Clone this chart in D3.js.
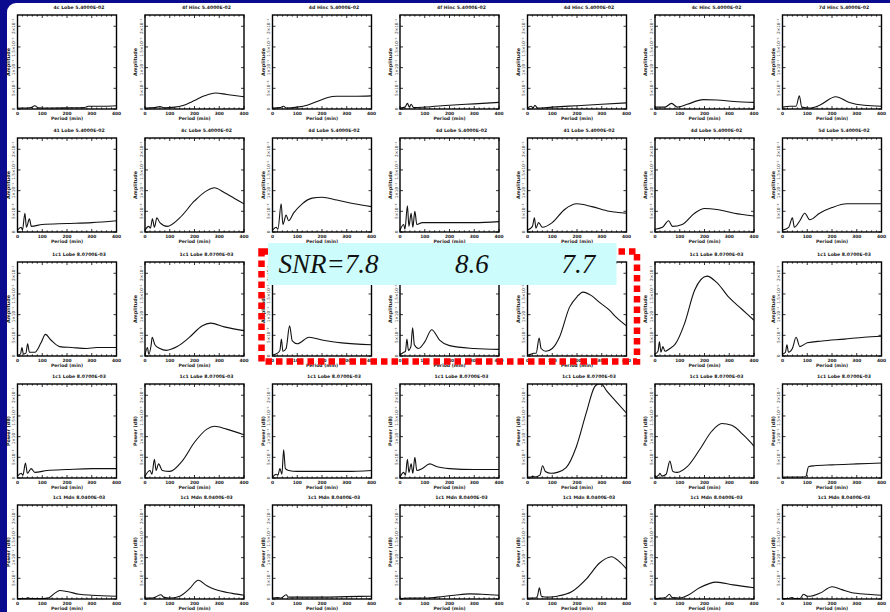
<!DOCTYPE html>
<html>
<head>
<meta charset="utf-8">
<script src="https://cdn.jsdelivr.net/npm/d3@7"></script>
<style>
  html, body { margin: 0; padding: 0; background: #fff; }
  svg { display: block; }
</style>
</head>
<body>
<svg id="chart" width="890" height="612"></svg>
<script>
// ---- axis ticks -------------------------------------------------------
const periodTicks = [0, 100, 200, 300, 400];
const powerTicks = [0, 0.22, 0.44, 0.66, 0.88];
const powerTickLabels = ["0", "5×10⁻²", "1×10⁻¹", "1.5×10⁻¹", "2×10⁻¹"];

// ---- panel titles (region, level) -------------------------------------
const row1Titles = ["4c Lobe", "4f Hinc", "4d Hinc", "4f Hinc", "4d Hinc", "4c Hinc", "7d Hinc"];
const row2Titles = ["41 Lobe", "4c Lobe", "4d Lobe", "4d Lobe", "41 Lobe", "4d Lobe", "5d Lobe"];
const row3Titles = ["1c1 Lobe", "1c1 Lobe", "1c1 Lobe", "1c1 Lobe", "1c1 Lobe", "1c1 Lobe", "1c1 Lobe"];
const row4Titles = ["1c1 Lobe", "1c1 Lobe", "1c1 Lobe", "1c1 Lobe", "1c1 Lobe", "1c1 Lobe", "1c1 Lobe"];
const row5Titles = ["1c1 Mdn", "1c1 Mdn", "1c1 Mdn", "1c1 Mdn", "1c1 Mdn", "1c1 Mdn", "1c1 Mdn"];
const rowLevels = ["5.4000E-02", "5.4000E-02", "8.0700E-03", "8.0700E-03", "8.0400E-03"];
const rowXLabels = ["Period (min)", "Period (min)", "Period (min)", "Period (min)", "Period (min)"];
const rowYLabels = ["Amplitude", "Amplitude", "Amplitude", "Power (dB)", "Power (dB)"];

// ---- periodogram series: [period, normalised power] ------------------
const row1Series = [
  [[0,0.01],[40,0.01],[55,0.015],[70,0.035],[85,0.012],[120,0.01],[200,0.012],[270,0.015],[285,0.03],[350,0.03],[400,0.035]],
  [[0,0.01],[40,0.015],[60,0.025],[80,0.012],[120,0.02],[150,0.035],[200,0.09],[240,0.14],[285,0.17],[330,0.155],[400,0.13]],
  [[0,0.01],[30,0.015],[45,0.03],[55,0.01],[100,0.02],[140,0.04],[180,0.08],[220,0.12],[260,0.135],[330,0.135],[400,0.14]],
  [[0,0.01],[20,0.02],[30,0.06],[38,0.02],[45,0.05],[55,0.015],[100,0.02],[200,0.04],[300,0.055],[400,0.07]],
  [[0,0.01],[15,0.03],[22,0.01],[30,0.04],[40,0.01],[100,0.02],[200,0.035],[300,0.05],[400,0.065]],
  [[0,0.02],[40,0.02],[67,0.06],[90,0.02],[130,0.05],[195,0.1],[250,0.095],[320,0.08],[400,0.07]],
  [[0,0.02],[30,0.03],[55,0.03],[68,0.14],[78,0.02],[110,0.01],[150,0.04],[215,0.13],[270,0.07],[330,0.04],[400,0.03]]
];
const row2Series = [
  [[0,0.02],[15,0.05],[20,0.02],[30,0.2],[36,0.05],[48,0.14],[56,0.06],[100,0.08],[200,0.09],[300,0.1],[400,0.12]],
  [[0,0.02],[15,0.06],[22,0.04],[30,0.14],[38,0.05],[48,0.15],[60,0.1],[90,0.06],[140,0.15],[200,0.33],[250,0.44],[280,0.47],[320,0.42],[360,0.36],[400,0.3]],
  [[0,0.02],[15,0.05],[22,0.03],[35,0.3],[42,0.08],[55,0.18],[65,0.12],[85,0.2],[120,0.3],[160,0.36],[200,0.37],[260,0.34],[330,0.3],[400,0.27]],
  [[0,0.02],[15,0.08],[20,0.03],[30,0.28],[36,0.06],[45,0.2],[52,0.05],[60,0.22],[68,0.08],[90,0.1],[200,0.1],[300,0.1],[400,0.11]],
  [[0,0.02],[20,0.06],[28,0.15],[34,0.04],[45,0.1],[60,0.05],[100,0.1],[150,0.24],[200,0.3],[260,0.27],[330,0.22],[400,0.2]],
  [[0,0.03],[30,0.05],[55,0.12],[70,0.06],[110,0.08],[160,0.2],[200,0.25],[250,0.24],[320,0.2],[400,0.17]],
  [[0,0.02],[25,0.05],[40,0.15],[48,0.05],[70,0.12],[90,0.2],[110,0.13],[150,0.2],[200,0.26],[260,0.3],[330,0.3],[400,0.3]]
];
const row3Series = [
  [[0,0.01],[12,0.02],[18,0.09],[24,0.02],[34,0.03],[41,0.13],[48,0.04],[70,0.04],[95,0.14],[113,0.23],[135,0.17],[170,0.1],[220,0.09],[280,0.08],[320,0.09],[400,0.09]],
  [[0,0.01],[10,0.09],[15,0.02],[25,0.12],[29,0.2],[40,0.12],[60,0.08],[86,0.06],[130,0.1],[180,0.2],[230,0.32],[265,0.35],[320,0.31],[400,0.27]],
  [[0,0.01],[20,0.03],[30,0.06],[36,0.18],[42,0.05],[55,0.08],[69,0.32],[80,0.16],[100,0.13],[148,0.2],[200,0.17],[280,0.14],[400,0.12]],
  [[0,0.01],[15,0.04],[22,0.05],[28,0.18],[34,0.06],[44,0.1],[51,0.3],[58,0.12],[75,0.08],[100,0.15],[128,0.28],[160,0.17],[200,0.11],[300,0.08],[400,0.07]],
  [[0,0.01],[15,0.02],[25,0.03],[35,0.03],[47,0.19],[55,0.08],[74,0.05],[100,0.08],[129,0.2],[170,0.52],[200,0.63],[224,0.68],[260,0.64],[291,0.57],[330,0.49],[359,0.41],[400,0.32]],
  [[0,0.02],[12,0.05],[18,0.15],[24,0.04],[32,0.1],[40,0.05],[60,0.08],[80,0.12],[120,0.35],[160,0.7],[210,0.85],[250,0.78],[300,0.62],[350,0.5],[400,0.38]],
  [[0,0.02],[12,0.04],[18,0.12],[24,0.04],[40,0.08],[55,0.2],[70,0.1],[100,0.14],[160,0.16],[250,0.18],[330,0.2],[400,0.21]]
];
const row4Series = [
  [[0,0.02],[15,0.05],[22,0.03],[32,0.16],[40,0.05],[55,0.1],[70,0.06],[120,0.08],[200,0.09],[300,0.1],[400,0.1]],
  [[0,0.02],[20,0.08],[28,0.04],[38,0.2],[45,0.08],[55,0.15],[70,0.08],[100,0.07],[150,0.18],[200,0.38],[250,0.52],[280,0.55],[330,0.52],[400,0.46]],
  [[0,0.01],[15,0.04],[22,0.03],[30,0.1],[38,0.04],[45,0.3],[52,0.1],[65,0.08],[100,0.07],[200,0.07],[300,0.07],[400,0.08]],
  [[0,0.01],[15,0.06],[22,0.03],[30,0.2],[36,0.06],[45,0.15],[52,0.05],[60,0.22],[68,0.08],[90,0.1],[120,0.15],[150,0.12],[200,0.1],[300,0.09],[400,0.09]],
  [[0,0.01],[15,0.01],[20,0.02],[30,0.01],[50,0.03],[61,0.13],[72,0.07],[95,0.05],[120,0.06],[156,0.11],[197,0.33],[237,0.69],[271,0.97],[285,1.0],[298,1.0],[319,0.93],[359,0.81],[400,0.69]],
  [[0,0.01],[15,0.03],[20,0.05],[28,0.02],[45,0.04],[60,0.18],[72,0.07],[90,0.06],[130,0.12],[180,0.3],[230,0.5],[270,0.58],[310,0.56],[360,0.45],[400,0.34]],
  [[0,0.01],[40,0.01],[80,0.01],[95,0.02],[105,0.12],[130,0.13],[200,0.14],[300,0.15],[400,0.16]]
];
const row5Series = [
  [[0,0.005],[30,0.005],[43,0.012],[55,0.004],[100,0.005],[124,0.01],[150,0.06],[171,0.09],[200,0.08],[250,0.05],[300,0.04],[400,0.03]],
  [[0,0.01],[30,0.01],[45,0.025],[64,0.045],[75,0.02],[100,0.01],[140,0.03],[180,0.11],[215,0.2],[250,0.14],[284,0.1],[352,0.06],[400,0.04]],
  [[0,0.01],[20,0.015],[35,0.01],[55,0.045],[65,0.02],[100,0.02],[200,0.02],[300,0.025],[400,0.03]],
  [[0,0.005],[40,0.01],[100,0.01],[150,0.02],[220,0.04],[280,0.055],[330,0.05],[400,0.04]],
  [[0,0.01],[30,0.01],[40,0.03],[48,0.12],[56,0.03],[80,0.02],[120,0.03],[180,0.08],[240,0.22],[290,0.38],[340,0.45],[370,0.4],[400,0.32]],
  [[0,0.005],[30,0.01],[45,0.02],[58,0.05],[70,0.015],[100,0.01],[133,0.04],[180,0.12],[248,0.18],[316,0.15],[400,0.12]],
  [[0,0.005],[25,0.005],[37,0.015],[48,0.005],[70,0.005],[85,0.05],[100,0.03],[112,0.03],[150,0.06],[201,0.13],[240,0.1],[277,0.07],[345,0.05],[400,0.04]]
];

// ---- annotation -------------------------------------------------------
const snrLabels = ["SNR=7.8", "8.6", "7.7"];
const highlightRow = 2;
const highlightCols = [2, 3, 4];

// ---- layout -----------------------------------------------------------
const allSeries = [row1Series, row2Series, row3Series, row4Series, row5Series];
const allTitles = [row1Titles, row2Titles, row3Titles, row4Titles, row5Titles];
const colLeft0 = 17.5, colStep = 127.5, frameW = 99;
const rowTops = [15, 138, 262, 384, 505];
const frameH = 94;

const svg = d3.select("#chart");

// Page background: blue slide border with white content area
svg.append("rect").attr("width", 890).attr("height", 612).attr("fill", "#0b0b8f");
svg.append("rect").attr("x", 7).attr("y", 3).attr("width", 900).attr("height", 640)
  .attr("rx", 9).attr("fill", "#ffffff");

const defs = svg.append("defs");
const x = d3.scaleLinear().domain([0, 400]).range([0, frameW]);
const y = d3.scaleLinear().domain([0, 1]).range([frameH, 0]);
const line = d3.line().x(d => x(d[0])).y(d => y(Math.min(d[1], 1))).curve(d3.curveMonotoneX);
const minorPeriods = d3.range(0, 401, 20);

defs.append("clipPath").attr("id", "frameClip")
  .append("rect").attr("width", frameW).attr("height", frameH);

allSeries.forEach((rowSeries, r) => {
  rowSeries.forEach((pts, c) => {
    const g = svg.append("g")
      .attr("transform", `translate(${colLeft0 + c * colStep},${rowTops[r]})`);

    // title above frame (the highlighted panels carry the SNR banner instead)
    const underBanner = r === highlightRow && highlightCols.includes(c);
    if (!underBanner) {
      g.append("text")
        .attr("x", frameW / 2 + 12).attr("y", -6)
        .attr("text-anchor", "middle")
        .attr("font-family", "DejaVu Sans, sans-serif")
        .attr("font-size", 4.6).attr("font-weight", "bold").attr("fill", "#222")
        .text(`${allTitles[r][c]}     ${rowLevels[r]}`);
    }

    // curve
    g.append("path")
      .attr("d", line(pts))
      .attr("clip-path", "url(#frameClip)")
      .attr("fill", "none").attr("stroke", "#111").attr("stroke-width", 1.1)
      .attr("stroke-linejoin", "round");

    // frame
    g.append("rect").attr("width", frameW).attr("height", frameH)
      .attr("fill", "none").attr("stroke", "#000").attr("stroke-width", 1.4);

    // inward ticks on all four sides
    const tk = g.append("g").attr("stroke", "#000").attr("stroke-width", 0.8);
    minorPeriods.forEach(p => {
      const len = periodTicks.includes(p) ? 3 : 1.6;
      tk.append("line").attr("x1", x(p)).attr("x2", x(p)).attr("y1", frameH).attr("y2", frameH - len);
      tk.append("line").attr("x1", x(p)).attr("x2", x(p)).attr("y1", 0).attr("y2", len);
    });
    powerTicks.forEach(v => {
      tk.append("line").attr("x1", 0).attr("x2", 3).attr("y1", y(v)).attr("y2", y(v));
      tk.append("line").attr("x1", frameW).attr("x2", frameW - 3).attr("y1", y(v)).attr("y2", y(v));
    });

    // x tick labels and axis label
    const xa = g.append("g").attr("font-family", "DejaVu Sans, sans-serif")
      .attr("font-size", 4.4).attr("font-weight", "bold").attr("fill", "#222")
      .attr("text-anchor", "middle");
    periodTicks.forEach(p => {
      xa.append("text").attr("x", x(p)).attr("y", frameH + 5.5).text(p);
    });
    xa.append("text").attr("x", frameW / 2).attr("y", frameH + 10.5)
      .attr("font-size", 4.6).text(rowXLabels[r]);

    // y tick labels and axis label (rotated)
    const ya = g.append("g").attr("font-family", "DejaVu Sans, sans-serif")
      .attr("font-size", 4.2).attr("fill", "#222").attr("text-anchor", "middle");
    powerTicks.forEach((v, i) => {
      ya.append("text")
        .attr("transform", `translate(-2.5,${y(v)}) rotate(-90)`)
        .text(powerTickLabels[i]);
    });
    ya.append("text")
      .attr("transform", `translate(-8,${frameH / 2}) rotate(-90)`)
      .attr("font-size", 4.8).attr("font-weight", "bold")
      .text(rowYLabels[r]);
  });
});

// ---- highlighted SNR group -------------------------------------------
const hLeft = colLeft0 + highlightCols[0] * colStep;
const hRight = colLeft0 + highlightCols[highlightCols.length - 1] * colStep + frameW;
const hTop = rowTops[highlightRow];

svg.append("rect")
  .attr("x", hLeft - 11).attr("y", hTop - 10.5)
  .attr("width", hRight - hLeft + 21.5).attr("height", frameH + 16)
  .attr("fill", "none").attr("stroke", "#ff0000").attr("stroke-width", 6.5)
  .attr("stroke-dasharray", "6.5 4");

svg.append("rect")
  .attr("x", hLeft - 4.5).attr("y", hTop - 19)
  .attr("width", hRight - hLeft - 5.5).attr("height", 42)
  .attr("fill", "#ccfcfc");

const snrOffsets = [6, 55, 34];
snrLabels.forEach((t, i) => {
  svg.append("text")
    .attr("x", colLeft0 + highlightCols[i] * colStep + snrOffsets[i])
    .attr("y", hTop + 11)
    .attr("font-family", "Liberation Serif, Times New Roman, serif")
    .attr("font-style", "italic").attr("font-size", 27).attr("fill", "#111")
    .text(t);
});
</script>
</body>
</html>
